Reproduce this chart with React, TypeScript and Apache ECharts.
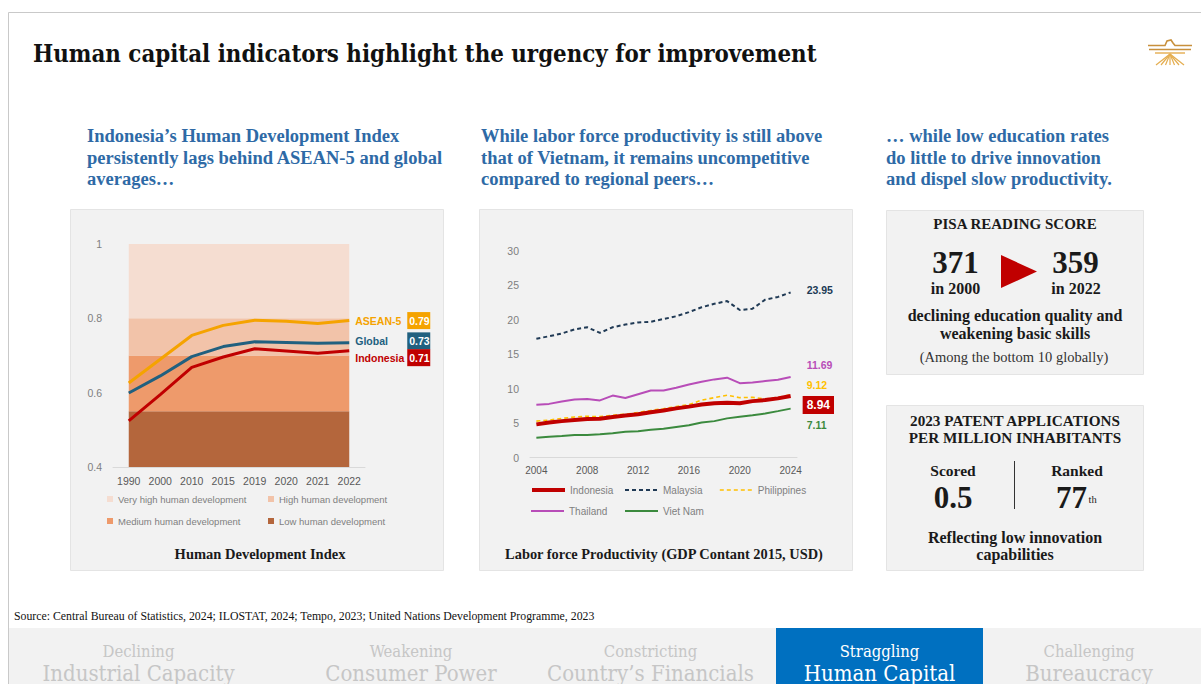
import React, { useEffect, useRef } from 'react';
import * as echarts from 'echarts';

// ---------- DATA ----------
const hdiYears = ['1990', '2000', '2010', '2015', '2019', '2020', '2021', '2022'];
const hdiAsean5 = [0.626, 0.69, 0.754, 0.781, 0.795, 0.792, 0.786, 0.794];
const hdiGlobal = [0.599, 0.645, 0.697, 0.724, 0.737, 0.735, 0.733, 0.734];
const hdiIndonesia = [0.524, 0.595, 0.668, 0.696, 0.718, 0.712, 0.706, 0.713];
const hdiBandNames = ['Low human development', 'Medium human development', 'High human development', 'Very high human development'];
const hdiBandEdges = [0.4, 0.55, 0.7, 0.8, 1.0];
const hdiTicks = [0.4, 0.6, 0.8, 1];

const lpYears = ['2004', '2005', '2006', '2007', '2008', '2009', '2010', '2011', '2012', '2013', '2014', '2015', '2016', '2017', '2018', '2019', '2020', '2021', '2022', '2023', '2024'];
const lpIndonesia = [4.83, 5.1, 5.3, 5.45, 5.6, 5.65, 5.9, 6.1, 6.3, 6.6, 6.85, 7.15, 7.4, 7.7, 7.9, 7.95, 7.9, 8.2, 8.35, 8.6, 8.94];
const lpMalaysia = [17.25, 17.6, 18.0, 18.6, 18.9, 18.1, 18.9, 19.3, 19.6, 19.7, 20.1, 20.5, 21.1, 21.8, 22.3, 22.7, 21.4, 21.6, 22.9, 23.3, 23.95];
const lpPhilippines = [5.3, 5.45, 5.7, 5.9, 6.0, 5.95, 6.15, 6.3, 6.55, 6.85, 7.1, 7.4, 7.7, 8.35, 8.7, 9.05, 8.7, 8.75, 8.5, 8.75, 9.12];
const lpThailand = [7.68, 7.8, 8.15, 8.45, 8.5, 8.3, 9.0, 8.65, 9.2, 9.75, 9.75, 10.15, 10.6, 11.0, 11.35, 11.6, 10.8, 10.9, 11.1, 11.3, 11.69];
const lpVietNam = [2.9, 3.05, 3.15, 3.3, 3.3, 3.4, 3.55, 3.75, 3.85, 4.05, 4.2, 4.45, 4.7, 5.1, 5.3, 5.7, 5.95, 6.15, 6.4, 6.75, 7.11];

const pisaScores = [371, 359];
const pisaYears = ['2000', '2022'];
const patentScore = '0.5';
const patentRank = '77';

const tabSmall = ['Declining', 'Weakening', 'Constricting', 'Straggling', 'Challenging'];
const tabBig = ['Industrial Capacity', 'Consumer Power', 'Country\u2019s Financials', 'Human Capital', 'Bureaucracy'];
const activeTab = 3;

// ---------- STYLE ----------
const SERIF = "'Liberation Serif', 'Times New Roman', serif";
const SLAB = "'DejaVu Serif Condensed', 'DejaVu Serif', serif";
const SANS = "'Liberation Sans', Arial, sans-serif";
const BLUE_HEAD = '#2e6aa6';
const bandColors = ['#b4663c', '#ee9a6b', '#f2c3a9', '#f5ddd1'];
const hdiColors = { asean: '#f5a300', global: '#21607f', indo: '#c00000' };
const lpColors = { indo: '#c00000', mys: '#203a55', phl: '#ffc000', tha: '#b84db8', vnm: '#3b8a3e' };

const T = (text: string, x: number, y: number, size: number, o: any = {}) => ({
  type: 'text',
  x,
  y,
  silent: true,
  z: 10,
  style: {
    text,
    fill: o.fill ?? '#1a1a1a',
    fontSize: size,
    fontFamily: o.family ?? SERIF,
    fontWeight: o.weight ?? 'normal',
    textAlign: o.align ?? 'left',
    align: o.align ?? 'left',
    textVerticalAlign: 'middle',
    verticalAlign: 'middle',
  },
});

const R = (x: number, y: number, w: number, h: number, fill: string, stroke?: string) => ({
  type: 'rect',
  silent: true,
  z: 0,
  shape: { x, y, width: w, height: h },
  style: { fill, stroke: stroke ?? 'none', lineWidth: 1 },
});

const L = (x1: number, y1: number, x2: number, y2: number, stroke: string, w = 1) => ({
  type: 'line',
  silent: true,
  z: 5,
  shape: { x1, y1, x2, y2 },
  style: { stroke, lineWidth: w },
});

function buildOption(): any {
  const graphics: any[] = [];
  // slide frame
  graphics.push(L(8.5, 12.5, 1201, 12.5, '#c9c9c9'));
  graphics.push(L(8.5, 12.5, 8.5, 684, '#c9c9c9'));
  // title
  graphics.push(T('Human capital indicators highlight the urgency for improvement', 33, 54, 23.8, { weight: 'bold', fill: '#111', family: SLAB }));
  // logo
  const gold = '#c8903c';
  const gold2 = '#e4ad4f';
  graphics.push({ type: 'polyline', silent: true, z: 5, shape: { points: [[1148, 45.5], [1165, 45.5], [1167, 41], [1171, 40], [1173, 43], [1175, 45.5], [1192, 45.5]] }, style: { stroke: gold, lineWidth: 1.6, fill: 'none' } });
  graphics.push(L(1149, 49.5, 1191, 49.5, gold, 1.6));
  graphics.push(L(1155, 53, 1185, 53, gold2, 1.4));
  [1156, 1161, 1165.5, 1170, 1174.5, 1179, 1184].forEach((ex) => graphics.push(L(1170, 54, ex, 65, gold2, 1.2)));

  // section headers
  const headers = [
    { x: 87, lines: ['Indonesia\u2019s Human Development Index', 'persistently lags behind ASEAN-5 and global', 'averages\u2026'] },
    { x: 481, lines: ['While labor force productivity is still above', 'that of Vietnam, it remains uncompetitive', 'compared to regional peers\u2026'] },
    { x: 886, lines: ['\u2026 while low education rates', 'do little to drive innovation', 'and dispel slow productivity.'] },
  ];
  headers.forEach((h) => h.lines.forEach((ln, i) => graphics.push(T(ln, h.x, 136 + i * 21.5, 18.5, { weight: 'bold', fill: BLUE_HEAD }))));

  // panels
  graphics.push(R(70.5, 209.5, 373, 361, '#f2f2f2', '#e4e4e4'));
  graphics.push(R(479.5, 209.5, 373, 361, '#f2f2f2', '#e4e4e4'));
  graphics.push(R(886.5, 210.5, 257, 164, '#f2f2f2', '#e4e4e4'));
  graphics.push(R(886.5, 405.5, 257, 165, '#f2f2f2', '#e4e4e4'));

  // chart titles
  graphics.push(T('Human Development Index', 260, 554, 14.5, { weight: 'bold', align: 'center' }));
  graphics.push(T('Labor force Productivity (GDP Contant 2015, USD)', 664, 554, 14.4, { weight: 'bold', align: 'center' }));

  // PISA panel
  graphics.push(T('PISA READING SCORE', 1015, 224, 15, { weight: 'bold', align: 'center' }));
  graphics.push(T(String(pisaScores[0]), 955.5, 262, 31, { weight: 'bold', align: 'center' }));
  graphics.push(T('in ' + pisaYears[0], 955.5, 288, 16, { weight: 'bold', align: 'center' }));
  graphics.push({ type: 'polygon', silent: true, z: 5, shape: { points: [[1001, 255], [1037, 271.5], [1001, 288]] }, style: { fill: '#c00000' } });
  graphics.push(T(String(pisaScores[1]), 1075.5, 262, 31, { weight: 'bold', align: 'center' }));
  graphics.push(T('in ' + pisaYears[1], 1076, 288, 16, { weight: 'bold', align: 'center' }));
  graphics.push(T('declining education quality and', 1015, 315, 16, { weight: 'bold', align: 'center' }));
  graphics.push(T('weakening basic skills', 1015, 333, 16, { weight: 'bold', align: 'center' }));
  graphics.push(T('(Among the bottom 10 globally)', 1014, 357, 14.5, { align: 'center', fill: '#333' }));

  // Patent panel
  graphics.push(T('2023 PATENT APPLICATIONS', 1015, 420, 15.2, { weight: 'bold', align: 'center' }));
  graphics.push(T('PER MILLION INHABITANTS', 1015, 437, 15.2, { weight: 'bold', align: 'center' }));
  graphics.push(T('Scored', 953, 470, 15.5, { weight: 'bold', align: 'center' }));
  graphics.push(T('Ranked', 1077, 470, 15.5, { weight: 'bold', align: 'center' }));
  graphics.push(T(patentScore, 953, 497, 31, { weight: 'bold', align: 'center' }));
  graphics.push(T(patentRank, 1087, 497, 31, { weight: 'bold', align: 'right' }));
  graphics.push(T('th', 1088.5, 499, 10.5, { align: 'left' }));
  graphics.push(L(1014.5, 461, 1014.5, 509, '#333', 1));
  graphics.push(T('Reflecting low innovation', 1015, 537, 16, { weight: 'bold', align: 'center' }));
  graphics.push(T('capabilities', 1015, 554, 16, { weight: 'bold', align: 'center' }));

  // source
  graphics.push(T('Source: Central Bureau of Statistics, 2024; ILOSTAT, 2024; Tempo, 2023; United Nations Development Programme, 2023', 14, 616, 11.8, { fill: '#111' }));

  // tabs
  graphics.push(R(9, 628, 1192, 56, '#f2f2f2'));
  const tabBounds = [[9, 270], [270, 550], [550, 776], [776, 983], [983, 1201]];
  const tabCenters = [138.5, 411, 650.5, 879.5, 1089];
  tabBig.forEach((big, i) => {
    const active = i === activeTab;
    if (active) graphics.push(R(tabBounds[i][0], 628, tabBounds[i][1] - tabBounds[i][0], 56, '#0070c0'));
    const fill = active ? '#ffffff' : '#c6c6c6';
    graphics.push(T(tabSmall[i], tabCenters[i], 651, 16.5, { align: 'center', fill, family: SLAB }));
    graphics.push(T(big, tabCenters[i], 673, 22, { align: 'center', fill, family: SLAB }));
  });

  // ---------- series ----------
  const series: any[] = [];
  hdiBandNames.forEach((name, i) => {
    series.push({
      name,
      type: 'line',
      xAxisIndex: 0,
      yAxisIndex: 0,
      stack: 'hdiBands',
      symbol: 'none',
      silent: true,
      z: 1,
      lineStyle: { width: 0, color: bandColors[i] },
      itemStyle: { color: bandColors[i] },
      areaStyle: { color: bandColors[i], opacity: 1 },
      data: hdiYears.map(() => (i === 0 ? hdiBandEdges[1] : hdiBandEdges[i + 1] - hdiBandEdges[i])),
    });
  });
  const hdiLine = (name: string, data: number[], color: string, dy: number) => ({
    name,
    type: 'line',
    xAxisIndex: 0,
    yAxisIndex: 0,
    symbol: 'none',
    z: 3,
    lineStyle: { width: 3, color },
    itemStyle: { color },
    data,
    endLabel: {
      show: true,
      distance: 6,
      offset: [0, dy],
      formatter: (p: any) => {
        const v = Array.isArray(p.value) ? p.value[1] : p.value;
        return `{n|${p.seriesName}}{b|${Number(v).toFixed(2)}}`;
      },
      rich: {
        n: { width: 52, color, fontWeight: 'bold', fontSize: 10.5, fontFamily: SANS },
        b: { backgroundColor: color, color: '#fff', fontWeight: 'bold', fontSize: 10.5, fontFamily: SANS, padding: [3, 2, 3, 2], width: 19, lineHeight: 11 },
      },
    },
  });
  series.push(hdiLine('ASEAN-5', hdiAsean5, hdiColors.asean, 0));
  series.push(hdiLine('Global', hdiGlobal, hdiColors.global, -2));
  series.push(hdiLine('Indonesia', hdiIndonesia, hdiColors.indo, 7));

  const lpLine = (name: string, data: number[], color: string, width: number, type: any, dy: number, boxed = false) => ({
    name,
    type: 'line',
    xAxisIndex: 1,
    yAxisIndex: 1,
    symbol: 'none',
    z: boxed ? 4 : 3,
    lineStyle: { width, color, type },
    itemStyle: { color },
    data,
    endLabel: {
      show: true,
      distance: boxed ? 12 : 16,
      offset: [0, dy],
      formatter: (p: any) => {
        const v = Array.isArray(p.value) ? p.value[1] : p.value;
        return Number(v).toFixed(2);
      },
      color: boxed ? '#fff' : color,
      fontWeight: 'bold',
      fontSize: boxed ? 12 : 10.5,
      fontFamily: SANS,
      backgroundColor: boxed ? color : 'transparent',
      padding: boxed ? [3, 4, 3, 4] : 0,
    },
  });
  series.push(lpLine('Malaysia', lpMalaysia, lpColors.mys, 2, [4, 3], -2));
  series.push(lpLine('Thailand', lpThailand, lpColors.tha, 2, 'solid', -12));
  series.push(lpLine('Philippines', lpPhilippines, lpColors.phl, 1.6, [4, 3], -10));
  series.push(lpLine('Viet Nam', lpVietNam, lpColors.vnm, 2, 'solid', 16));
  series.push(lpLine('Indonesia ', lpIndonesia, lpColors.indo, 4, 'solid', 9, true));

  const legendText = { color: '#7f7f7f', fontSize: 9.5, fontFamily: SANS };
  const bandLegendPos: [string, number, number][] = [
    ['Very high human development', 107, 494],
    ['High human development', 268, 494],
    ['Medium human development', 107, 516],
    ['Low human development', 268, 516],
  ];
  const legends: any[] = bandLegendPos.map(([name, left, top]) => ({
    data: [name],
    left,
    top,
    padding: 0,
    icon: 'rect',
    itemWidth: 6,
    itemHeight: 6,
    itemGap: 0,
    selectedMode: false,
    textStyle: legendText,
  }));
  const lpLegendPos: [string, number, number, number][] = [
    ['Indonesia ', 530, 485, 4],
    ['Malaysia', 624, 485, 2],
    ['Philippines', 719, 485, 1.6],
    ['Thailand', 530, 506, 2],
    ['Viet Nam', 624, 506, 2],
  ];
  lpLegendPos.forEach(([name, left, top, w]) =>
    legends.push({
      data: [{ name }],
      left,
      top,
      padding: 0,
      itemWidth: 33,
      itemHeight: 12,
      itemGap: 0,
      selectedMode: false,
      itemStyle: { opacity: 0, borderWidth: 0 },
      lineStyle: { width: w },
      formatter: (n: string) => n.trim(),
      textStyle: { ...legendText, fontSize: 10 },
    })
  );

  return {
    animation: false,
    backgroundColor: '#ffffff',
    textStyle: { fontFamily: SANS },
    graphic: { elements: graphics },
    legend: legends,
    grid: [
      { left: 113, top: 244, width: 252, height: 223, containLabel: false },
      { left: 530, top: 250.7, width: 267, height: 207, containLabel: false },
    ],
    xAxis: [
      {
        type: 'category',
        gridIndex: 0,
        data: hdiYears,
        boundaryGap: true,
        axisLine: { lineStyle: { color: '#d9d9d9', width: 1 } },
        axisTick: { show: false },
        axisLabel: { color: '#595959', fontSize: 10.5, margin: 8, fontFamily: SANS },
      },
      {
        type: 'category',
        gridIndex: 1,
        data: lpYears,
        boundaryGap: true,
        axisLine: { lineStyle: { color: '#d9d9d9', width: 1 } },
        axisTick: { show: false },
        axisLabel: { color: '#595959', fontSize: 10, margin: 8, interval: 3, fontFamily: SANS },
      },
    ],
    yAxis: [
      {
        type: 'value',
        gridIndex: 0,
        min: hdiTicks[0],
        max: hdiTicks[hdiTicks.length - 1],
        interval: 0.2,
        splitLine: { show: false },
        axisLine: { show: false },
        axisTick: { show: false },
        axisLabel: {
          color: '#7f7f7f',
          fontSize: 10.5,
          margin: 11,
          fontFamily: SANS,
          formatter: (v: number) => (Math.abs(v - 1) < 1e-6 ? '1' : v.toFixed(1)),
        },
      },
      {
        type: 'value',
        gridIndex: 1,
        min: 0,
        max: 30,
        interval: 5,
        splitLine: { show: false },
        axisLine: { show: false },
        axisTick: { show: false },
        axisLabel: { color: '#7f7f7f', fontSize: 10.5, margin: 11, fontFamily: SANS },
      },
    ],
    series,
  };
}

export default function App() {
  const ref = useRef<HTMLDivElement>(null);
  useEffect(() => {
    document.body.style.margin = '0';
    const chart = echarts.init(ref.current as HTMLDivElement, null, { renderer: 'svg', width: 1201, height: 684 });
    chart.setOption(buildOption());
    return () => chart.dispose();
  }, []);
  return <div ref={ref} style={{ position: 'absolute', left: 0, top: 0, width: 1201, height: 684, background: '#fff' }} />;
}
